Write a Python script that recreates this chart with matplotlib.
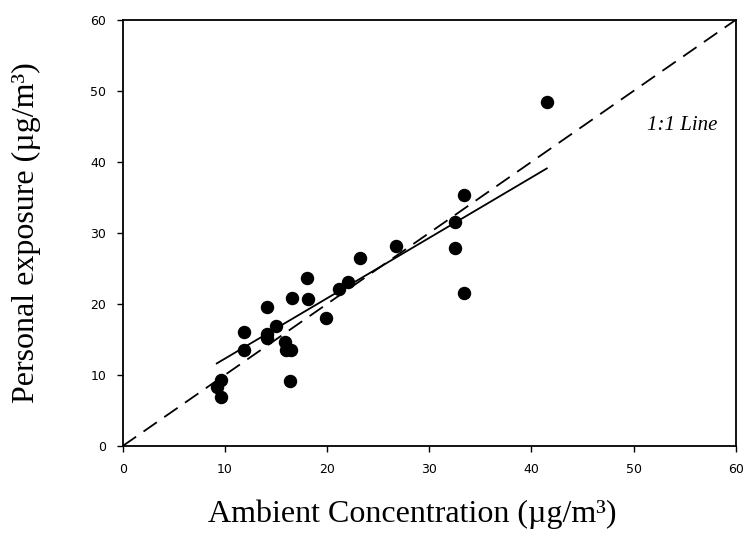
import numpy as np
import matplotlib
matplotlib.use('Agg')
import matplotlib.pyplot as plt

# data
ambient = [9.6, 9.2, 9.6, 11.9, 11.9, 14.1, 14.1, 14.1, 15.0, 15.9, 16.0, 16.5,
           16.4, 16.6, 18.0, 18.1, 19.9, 21.2, 22.0, 23.2, 26.7, 32.5, 32.5,
           33.4, 33.4, 41.5]
personal = [9.3, 8.3, 6.9, 16.0, 13.5, 19.5, 15.7, 15.2, 16.9, 14.7, 13.5, 13.5,
            9.2, 20.9, 23.6, 20.7, 18.0, 22.1, 23.1, 26.4, 28.2, 31.5, 27.9,
            35.4, 21.5, 48.5]

# regression line as drawn
fit_x = [9.2, 41.5]
fit_slope = 0.85
fit_intercept = 3.8

one_to_one = [0, 60]
ticks = [0, 10, 20, 30, 40, 50, 60]

fig = plt.figure(figsize=(7.44, 5.36), dpi=100)
ax = fig.add_axes([0.165, 0.168, 0.824, 0.795])

ax.plot(one_to_one, one_to_one, color='black', lw=1.3, dashes=(9, 5))
fx = np.array(fit_x)
ax.plot(fx, fit_slope * fx + fit_intercept, color='black', lw=1.3)
ax.scatter(ambient, personal, s=75, color='black', zorder=3)

ax.text(54.8, 45.1, '1:1 Line', fontsize=15, style='italic',
        family='Liberation Serif', ha='center', va='center')

ax.set_xlim(0, 60)
ax.set_ylim(0, 60)
ax.set_xticks(ticks)
ax.set_yticks(ticks)
ax.tick_params(direction='out', length=4, width=1, labelsize=9, pad=8)
for s in ax.spines.values():
    s.set_linewidth(1.3)

ax.set_xlabel('Ambient Concentration (µg/m³)', family='Liberation Serif',
              fontsize=23, labelpad=20)
ax.xaxis.set_label_coords(0.473, -0.125, transform=ax.transAxes)
ax.xaxis.label.set_va('top')
ax.set_ylabel('Personal exposure (µg/m³)', family='Liberation Serif',
              fontsize=23, labelpad=35)

fig.savefig('out.png', dpi=100)
